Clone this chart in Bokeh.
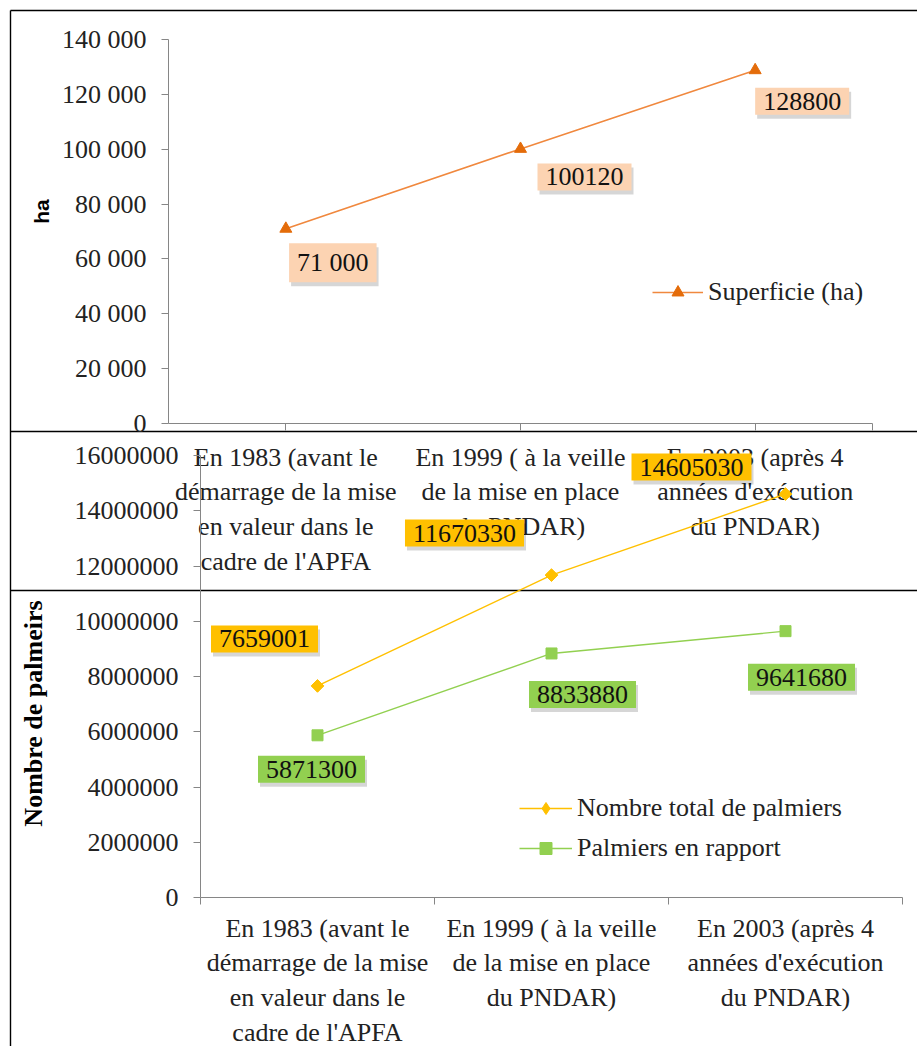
import math

from bokeh.core.properties import value
from bokeh.embed import file_html
from bokeh.models import (CDSView, ColumnDataSource, FixedTicker, IndexFilter, Label, Legend,
                          LegendItem, LinearAxis, Range1d)
from bokeh.plotting import figure
from bokeh.resources import INLINE

# ---------------------------------------------------------------- data
categories = [
    "En 1983 (avant le\ndémarrage de la mise\nen valeur dans le\ncadre de l'APFA",
    "En 1999 ( à la veille\nde la mise en place\ndu PNDAR)",
    "En 2003 (après 4\nannées d'exécution\ndu PNDAR)",
]
superficie_ha = [71000, 100120, 128800]
palmiers_total = [7659001, 11670330, 14605030]
palmiers_rapport = [5871300, 8833880, 9641680]

ha_ticks = [0, 20000, 40000, 60000, 80000, 100000, 120000, 140000]
palm_ticks = [0, 2000000, 4000000, 6000000, 8000000, 10000000, 12000000, 14000000, 16000000]

# ---------------------------------------------------------------- page geometry
W, H = 917, 1046
SERIF = "Liberation Serif"
FS = "26px"
TXT = "#222222"
AXIS_GREY = "#868686"


def fit_range(p_a, v_a, p_b, v_b, lo_px, hi_px):
    """Range1d whose values put v_a at pixel p_a and v_b at pixel p_b."""
    k = (v_b - v_a) / (p_b - p_a)
    return Range1d(start=v_a + (lo_px - p_a) * k, end=v_a + (hi_px - p_a) * k)


p = figure(width=W, height=H, x_range=Range1d(0, W), y_range=Range1d(H, 0),
           x_axis_location=None, y_axis_location=None, toolbar_location=None,
           output_backend="svg", min_border=0, outline_line_color=None,
           background_fill_color="white", border_fill_color="white")
p.xgrid.visible = False
p.ygrid.visible = False

# category slots: centres at 0.5, 1.5, 2.5 on a 0..3 axis
cat_pos = [i + 0.5 for i in range(len(categories))]

p.extra_x_ranges = {
    "top_x": fit_range(168, 0, 872, 3, 0, W),
    "bot_x": fit_range(200, 0, 902, 3, 0, W),
}
p.extra_y_ranges = {
    "top_y": fit_range(423, 0, 39, 140000, H, 0),
    "bot_y": fit_range(897, 0, 455, 16000000, H, 0),
}

# chart frames
p.segment(x0=[10, 10, 10, 10], y0=[10, 10, 431, 590], x1=[10, W, W, W], y1=[H, 10, 431, 590],
          line_color="black", line_width=1.4)

# ---------------------------------------------------------------- top chart: area
top_src = ColumnDataSource(dict(
    x=cat_pos, y=superficie_ha,
    txt=[f"{v:,}".replace(",", " ") if v < 100000 else str(v) for v in superficie_ha],
    dx=[47, 64, 47], dy=[34, 28, 31],
))
orange_line = p.line("x", "y", source=top_src, x_range_name="top_x", y_range_name="top_y",
                     line_color="#F0883E", line_width=1.6)
orange_pts = p.scatter("x", "y", source=top_src, x_range_name="top_x", y_range_name="top_y",
                       marker="triangle", size=12, fill_color="#E46C0A", line_color="#E46C0A")

top_y_axis = LinearAxis(x_range_name="top_x", y_range_name="top_y", fixed_location=0,
                        bounds=(0, 140000), ticker=FixedTicker(ticks=ha_ticks),
                        major_label_overrides={t: f"{t:,}".replace(",", " ") for t in ha_ticks})
top_x_axis = LinearAxis(x_range_name="top_x", y_range_name="top_y", fixed_location=0,
                        bounds=(0, 3), ticker=FixedTicker(ticks=cat_pos + [3]),
                        major_label_overrides={**{c: lab for c, lab in zip(cat_pos, categories)}, 3: ""})
for ax in (top_y_axis, top_x_axis):
    ax.axis_line_color = AXIS_GREY
    ax.major_tick_line_color = AXIS_GREY
    ax.major_tick_out = 7
    ax.major_tick_in = 0
    ax.minor_tick_line_color = None
    ax.major_label_text_font = SERIF
    ax.major_label_text_font_size = FS
    ax.major_label_text_color = TXT
top_y_axis.major_label_standoff = 15
top_x_axis.major_label_standoff = 12
p.add_layout(top_y_axis, "left")
p.add_layout(top_x_axis, "below")

# ---------------------------------------------------------------- bottom chart: palm trees
tot_src = ColumnDataSource(dict(
    x=cat_pos, y=palmiers_total, txt=[str(v) for v in palmiers_total],
    dx=[-53, -87, -94], dy=[-47, -42, -27],
))
rap_src = ColumnDataSource(dict(
    x=cat_pos, y=palmiers_rapport, txt=[str(v) for v in palmiers_rapport],
    dx=[-6, 31, 16], dy=[34, 41, 46],
))
yellow_line = p.line("x", "y", source=tot_src, x_range_name="bot_x", y_range_name="bot_y",
                     line_color="#FFC000", line_width=1.4, level="annotation")
# diamond markers: a square turned by 45 degrees
yellow_pts = p.scatter("x", "y", source=tot_src, x_range_name="bot_x", y_range_name="bot_y",
                       marker="square", angle=math.pi / 4, size=9,
                       fill_color="#FFC000", line_color="#FFC000", level="annotation")
# legend key for the diamond series; its single point sits inside the first marker
yellow_key = p.scatter("x", "y", source=tot_src, view=CDSView(filter=IndexFilter([0])),
                       x_range_name="bot_x", y_range_name="bot_y", marker="diamond", size=11,
                       fill_color="#FFC000", line_color="#FFC000", level="annotation")
green_line = p.line("x", "y", source=rap_src, x_range_name="bot_x", y_range_name="bot_y",
                    line_color="#92D050", line_width=1.4, level="annotation")
green_pts = p.scatter("x", "y", source=rap_src, x_range_name="bot_x", y_range_name="bot_y",
                      marker="square", size=11, fill_color="#92D050", line_color="#92D050",
                      level="annotation")

bot_y_axis = LinearAxis(x_range_name="bot_x", y_range_name="bot_y", fixed_location=0,
                        bounds=(0, 16000000), ticker=FixedTicker(ticks=palm_ticks),
                        major_label_overrides={t: str(t) for t in palm_ticks})
bot_x_axis = LinearAxis(x_range_name="bot_x", y_range_name="bot_y", fixed_location=0,
                        bounds=(0, 3), ticker=FixedTicker(ticks=[0, 1, 2, 3]),
                        major_label_overrides={0: "", 1: "", 2: "", 3: ""})
bot_cat_axis = LinearAxis(x_range_name="bot_x", y_range_name="bot_y", fixed_location=0,
                          bounds=(0, 3), ticker=FixedTicker(ticks=cat_pos),
                          major_label_overrides={c: lab for c, lab in zip(cat_pos, categories)})
for ax in (bot_y_axis, bot_x_axis, bot_cat_axis):
    ax.axis_line_color = AXIS_GREY
    ax.major_tick_line_color = AXIS_GREY
    ax.major_tick_out = 7
    ax.major_tick_in = 0
    ax.minor_tick_line_color = None
    ax.major_label_text_font = SERIF
    ax.major_label_text_font_size = FS
    ax.major_label_text_color = TXT
bot_y_axis.major_label_standoff = 15
bot_cat_axis.axis_line_color = None
bot_cat_axis.major_tick_line_color = None
bot_cat_axis.major_tick_out = 0
bot_cat_axis.major_label_standoff = 16
p.add_layout(bot_y_axis, "left")
p.add_layout(bot_x_axis, "below")
p.add_layout(bot_cat_axis, "below")

# ---------------------------------------------------------------- axis titles
p.add_layout(Label(x=41, y=211, text="ha", angle=math.pi / 2, text_align="center",
                   text_baseline="middle", text_font="Liberation Sans", text_font_size="21px",
                   text_font_style="bold", text_color="black"))
p.add_layout(Label(x=33, y=713, text="Nombre de palmeirs", angle=math.pi / 2, text_align="center",
                   text_baseline="middle", text_font=SERIF, text_font_size=FS,
                   text_font_style="bold", text_color="black"))

# ---------------------------------------------------------------- value boxes (shadow + box)
for src, xr, yr, fill in ((top_src, "top_x", "top_y", "#FCD3B2"),
                          (tot_src, "bot_x", "bot_y", "#FFC000"),
                          (rap_src, "bot_x", "bot_y", "#92D050")):
    src.data["sx"] = [d + 2 for d in src.data["dx"]]
    src.data["sy"] = [d + 4 for d in src.data["dy"]]
    common = dict(x="x", y="y", text="txt", source=src, x_range_name=xr, y_range_name=yr,
                  text_font=value(SERIF), text_font_size=value(FS), text_align="center",
                  text_baseline="middle", padding=(8, 5), level="annotation")
    p.text(x_offset="sx", y_offset="sy", text_alpha=0, background_fill_color="#000000",
           background_fill_alpha=0.16, **common)
    p.text(x_offset="dx", y_offset="dy", text_color="#111111", background_fill_color=fill,
           **common)

# ---------------------------------------------------------------- legends
legend_style = dict(border_line_color=None, background_fill_alpha=0, padding=0, margin=0,
                    label_text_font=SERIF, label_text_font_size=FS, label_text_color=TXT,
                    glyph_height=30, label_height=30, label_standoff=5, spacing=10)
p.add_layout(Legend(items=[LegendItem(label="Superficie (ha)", renderers=[orange_line, orange_pts])],
                    location=(652, 739), glyph_width=51, **legend_style))
p.add_layout(Legend(items=[LegendItem(label="Nombre total de palmiers", renderers=[yellow_line, yellow_key]),
                           LegendItem(label="Palmiers en rapport", renderers=[green_line, green_pts])],
                    location=(519, 183), glyph_width=53, **legend_style))

open("out.html", "w").write(file_html(p, INLINE))
